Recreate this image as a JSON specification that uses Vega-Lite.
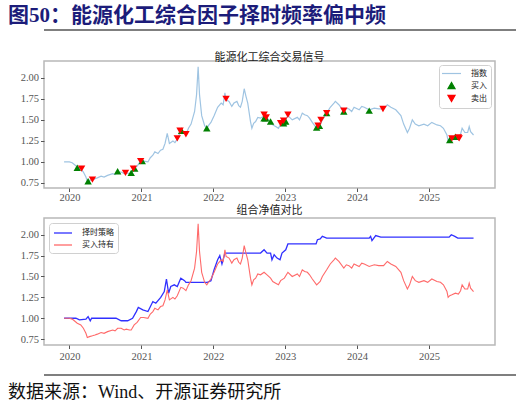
{
  "$schema": "https://vega.github.io/schema/vega-lite/v6.json",
  "description": "能源化工综合因子择时",
  "background": "white",
  "padding": 5,
  "config": {
    "view": {"stroke": "#b8b8b8", "strokeWidth": 1.5},
    "axis": {
      "labelFont": "Liberation Serif",
      "labelFontSize": 10.5,
      "labelColor": "#555",
      "tickColor": "#555",
      "tickSize": 3.5,
      "domain": false,
      "grid": false,
      "title": null
    },
    "legend": {
      "labelFont": "Noto Sans CJK SC",
      "labelFontSize": 8,
      "labelColor": "#222",
      "strokeColor": "#d0d0d0",
      "fillColor": "white",
      "cornerRadius": 3,
      "padding": 4,
      "rowPadding": 2,
      "symbolSize": 100,
      "symbolOffset": 4,
      "title": null
    }
  },
  "datasets": {
    "index": [
      {"date": "2019-12-05", "value": 1.00}, {"date": "2020-01-01", "value": 1.00}, {"date": "2020-01-15", "value": 0.99},
      {"date": "2020-01-26", "value": 0.97}, {"date": "2020-02-10", "value": 0.94}, {"date": "2020-02-28", "value": 0.92},
      {"date": "2020-03-12", "value": 0.88}, {"date": "2020-03-25", "value": 0.82}, {"date": "2020-04-01", "value": 0.77},
      {"date": "2020-04-12", "value": 0.78}, {"date": "2020-04-27", "value": 0.79}, {"date": "2020-05-10", "value": 0.80},
      {"date": "2020-05-22", "value": 0.81}, {"date": "2020-06-10", "value": 0.83}, {"date": "2020-06-25", "value": 0.82},
      {"date": "2020-07-13", "value": 0.84}, {"date": "2020-08-08", "value": 0.86}, {"date": "2020-08-20", "value": 0.85},
      {"date": "2020-09-02", "value": 0.88}, {"date": "2020-09-20", "value": 0.88}, {"date": "2020-10-05", "value": 0.86},
      {"date": "2020-10-16", "value": 0.87}, {"date": "2020-11-01", "value": 0.86}, {"date": "2020-11-10", "value": 0.86},
      {"date": "2020-11-25", "value": 0.92}, {"date": "2020-12-10", "value": 0.95}, {"date": "2020-12-28", "value": 1.01},
      {"date": "2021-01-12", "value": 1.01}, {"date": "2021-02-03", "value": 1.00}, {"date": "2021-02-15", "value": 1.05},
      {"date": "2021-02-28", "value": 1.08}, {"date": "2021-03-10", "value": 1.12}, {"date": "2021-03-26", "value": 1.10},
      {"date": "2021-04-08", "value": 1.14}, {"date": "2021-04-20", "value": 1.15}, {"date": "2021-05-01", "value": 1.22},
      {"date": "2021-05-12", "value": 1.34}, {"date": "2021-05-23", "value": 1.22}, {"date": "2021-06-10", "value": 1.25},
      {"date": "2021-06-20", "value": 1.23}, {"date": "2021-07-02", "value": 1.27}, {"date": "2021-07-20", "value": 1.37},
      {"date": "2021-08-01", "value": 1.36}, {"date": "2021-08-15", "value": 1.33}, {"date": "2021-08-28", "value": 1.40},
      {"date": "2021-09-10", "value": 1.45}, {"date": "2021-09-28", "value": 1.60}, {"date": "2021-10-08", "value": 1.80},
      {"date": "2021-10-16", "value": 2.13}, {"date": "2021-10-23", "value": 1.80}, {"date": "2021-11-03", "value": 1.55},
      {"date": "2021-11-18", "value": 1.43}, {"date": "2021-11-29", "value": 1.40}, {"date": "2021-12-10", "value": 1.44},
      {"date": "2021-12-20", "value": 1.47}, {"date": "2022-01-05", "value": 1.55}, {"date": "2022-01-23", "value": 1.65},
      {"date": "2022-02-10", "value": 1.70}, {"date": "2022-02-20", "value": 1.68}, {"date": "2022-03-01", "value": 1.82},
      {"date": "2022-03-07", "value": 1.74}, {"date": "2022-03-22", "value": 1.72}, {"date": "2022-04-05", "value": 1.66},
      {"date": "2022-04-16", "value": 1.70}, {"date": "2022-05-01", "value": 1.72}, {"date": "2022-05-10", "value": 1.67},
      {"date": "2022-05-19", "value": 1.65}, {"date": "2022-05-28", "value": 1.72}, {"date": "2022-06-07", "value": 1.87},
      {"date": "2022-06-16", "value": 1.78}, {"date": "2022-06-25", "value": 1.70}, {"date": "2022-07-09", "value": 1.48},
      {"date": "2022-07-16", "value": 1.40}, {"date": "2022-07-25", "value": 1.46}, {"date": "2022-08-04", "value": 1.48},
      {"date": "2022-08-15", "value": 1.53}, {"date": "2022-08-29", "value": 1.52}, {"date": "2022-09-16", "value": 1.55},
      {"date": "2022-10-01", "value": 1.52}, {"date": "2022-10-19", "value": 1.48}, {"date": "2022-10-30", "value": 1.44},
      {"date": "2022-11-14", "value": 1.42}, {"date": "2022-11-28", "value": 1.40}, {"date": "2022-12-09", "value": 1.45},
      {"date": "2022-12-28", "value": 1.48}, {"date": "2023-01-15", "value": 1.55}, {"date": "2023-02-06", "value": 1.50},
      {"date": "2023-03-04", "value": 1.53}, {"date": "2023-03-15", "value": 1.50}, {"date": "2023-03-29", "value": 1.58},
      {"date": "2023-04-10", "value": 1.56}, {"date": "2023-04-24", "value": 1.55}, {"date": "2023-05-05", "value": 1.52},
      {"date": "2023-05-19", "value": 1.47}, {"date": "2023-06-10", "value": 1.40}, {"date": "2023-06-28", "value": 1.44},
      {"date": "2023-07-09", "value": 1.50}, {"date": "2023-07-31", "value": 1.58}, {"date": "2023-08-18", "value": 1.65},
      {"date": "2023-09-06", "value": 1.70}, {"date": "2023-09-13", "value": 1.72}, {"date": "2023-10-01", "value": 1.68},
      {"date": "2023-10-26", "value": 1.60}, {"date": "2023-11-08", "value": 1.64}, {"date": "2023-11-21", "value": 1.63},
      {"date": "2023-12-05", "value": 1.60}, {"date": "2023-12-17", "value": 1.65}, {"date": "2024-01-12", "value": 1.62},
      {"date": "2024-01-25", "value": 1.66}, {"date": "2024-02-07", "value": 1.65}, {"date": "2024-03-03", "value": 1.62},
      {"date": "2024-03-29", "value": 1.64}, {"date": "2024-04-20", "value": 1.63}, {"date": "2024-05-15", "value": 1.63},
      {"date": "2024-06-03", "value": 1.68}, {"date": "2024-06-21", "value": 1.65}, {"date": "2024-07-16", "value": 1.62},
      {"date": "2024-08-11", "value": 1.55}, {"date": "2024-08-25", "value": 1.45}, {"date": "2024-09-13", "value": 1.35},
      {"date": "2024-09-24", "value": 1.40}, {"date": "2024-10-08", "value": 1.50}, {"date": "2024-10-23", "value": 1.45},
      {"date": "2024-11-10", "value": 1.43}, {"date": "2024-12-06", "value": 1.45}, {"date": "2024-12-25", "value": 1.43},
      {"date": "2025-01-15", "value": 1.47}, {"date": "2025-02-10", "value": 1.44}, {"date": "2025-02-28", "value": 1.43},
      {"date": "2025-03-15", "value": 1.40}, {"date": "2025-04-02", "value": 1.32}, {"date": "2025-04-08", "value": 1.25},
      {"date": "2025-04-16", "value": 1.27}, {"date": "2025-04-27", "value": 1.28}, {"date": "2025-05-15", "value": 1.30},
      {"date": "2025-05-30", "value": 1.29}, {"date": "2025-06-10", "value": 1.33}, {"date": "2025-06-18", "value": 1.40},
      {"date": "2025-07-02", "value": 1.35}, {"date": "2025-07-16", "value": 1.35}, {"date": "2025-07-24", "value": 1.42},
      {"date": "2025-07-31", "value": 1.36}, {"date": "2025-08-15", "value": 1.32}
    ],
    "strategy": [
      {"date": "2019-12-05", "value": 1.00}, {"date": "2020-02-03", "value": 1.00}, {"date": "2020-02-21", "value": 0.98},
      {"date": "2020-03-25", "value": 0.99}, {"date": "2020-04-05", "value": 1.02}, {"date": "2020-04-16", "value": 0.97},
      {"date": "2020-04-23", "value": 1.00}, {"date": "2020-08-25", "value": 1.00}, {"date": "2020-09-20", "value": 0.97},
      {"date": "2020-10-23", "value": 0.97}, {"date": "2020-11-17", "value": 1.00}, {"date": "2020-12-06", "value": 1.08},
      {"date": "2020-12-16", "value": 1.13}, {"date": "2021-01-08", "value": 1.10}, {"date": "2021-02-03", "value": 1.08},
      {"date": "2021-02-28", "value": 1.20}, {"date": "2021-03-15", "value": 1.18}, {"date": "2021-04-09", "value": 1.25},
      {"date": "2021-04-27", "value": 1.32}, {"date": "2021-05-08", "value": 1.47}, {"date": "2021-05-19", "value": 1.30},
      {"date": "2021-05-30", "value": 1.38}, {"date": "2021-06-17", "value": 1.40}, {"date": "2021-07-02", "value": 1.38},
      {"date": "2021-07-20", "value": 1.48}, {"date": "2021-08-08", "value": 1.45}, {"date": "2021-08-15", "value": 1.43},
      {"date": "2021-12-02", "value": 1.43}, {"date": "2021-12-20", "value": 1.45}, {"date": "2022-01-05", "value": 1.58},
      {"date": "2022-01-23", "value": 1.70}, {"date": "2022-02-03", "value": 1.75}, {"date": "2022-02-14", "value": 1.65},
      {"date": "2022-03-01", "value": 1.78}, {"date": "2022-08-29", "value": 1.78}, {"date": "2022-09-16", "value": 1.82},
      {"date": "2022-10-01", "value": 1.78}, {"date": "2022-10-19", "value": 1.78}, {"date": "2022-10-26", "value": 1.70},
      {"date": "2022-11-06", "value": 1.76}, {"date": "2022-11-21", "value": 1.72}, {"date": "2022-12-06", "value": 1.70},
      {"date": "2022-12-16", "value": 1.78}, {"date": "2023-01-04", "value": 1.82}, {"date": "2023-01-15", "value": 1.89},
      {"date": "2023-06-07", "value": 1.89}, {"date": "2023-06-14", "value": 1.94}, {"date": "2023-06-28", "value": 1.95},
      {"date": "2023-07-09", "value": 1.98}, {"date": "2023-07-31", "value": 1.96}, {"date": "2024-03-03", "value": 1.96},
      {"date": "2024-03-10", "value": 1.98}, {"date": "2024-03-17", "value": 1.93}, {"date": "2024-04-05", "value": 1.99},
      {"date": "2024-05-01", "value": 1.97}, {"date": "2025-04-13", "value": 1.97}, {"date": "2025-04-24", "value": 2.00},
      {"date": "2025-05-12", "value": 1.98}, {"date": "2025-05-27", "value": 1.96}, {"date": "2025-08-15", "value": 1.96}
    ],
    "signals": [
      {"date": "2020-02-10", "value": 0.93, "signal": "买入"}, {"date": "2020-04-05", "value": 0.77, "signal": "买入"},
      {"date": "2020-09-02", "value": 0.89, "signal": "买入"}, {"date": "2020-11-10", "value": 0.87, "signal": "买入"},
      {"date": "2020-11-28", "value": 0.92, "signal": "买入"}, {"date": "2021-01-05", "value": 1.01, "signal": "买入"},
      {"date": "2021-07-24", "value": 1.37, "signal": "买入"}, {"date": "2021-11-29", "value": 1.40, "signal": "买入"},
      {"date": "2022-09-16", "value": 1.52, "signal": "买入"}, {"date": "2022-09-24", "value": 1.52, "signal": "买入"},
      {"date": "2022-10-19", "value": 1.48, "signal": "买入"}, {"date": "2022-12-24", "value": 1.46, "signal": "买入"},
      {"date": "2023-01-04", "value": 1.48, "signal": "买入"}, {"date": "2023-06-10", "value": 1.41, "signal": "买入"},
      {"date": "2023-06-24", "value": 1.43, "signal": "买入"}, {"date": "2023-07-31", "value": 1.58, "signal": "买入"},
      {"date": "2023-10-26", "value": 1.60, "signal": "买入"}, {"date": "2024-03-03", "value": 1.61, "signal": "买入"},
      {"date": "2025-04-16", "value": 1.26, "signal": "买入"}, {"date": "2025-05-15", "value": 1.30, "signal": "买入"},
      {"date": "2020-03-03", "value": 0.92, "signal": "卖出"}, {"date": "2020-04-27", "value": 0.79, "signal": "卖出"},
      {"date": "2020-10-12", "value": 0.87, "signal": "卖出"}, {"date": "2020-11-21", "value": 0.92, "signal": "卖出"},
      {"date": "2020-12-28", "value": 1.01, "signal": "卖出"}, {"date": "2021-07-02", "value": 1.28, "signal": "卖出"},
      {"date": "2021-07-16", "value": 1.37, "signal": "卖出"}, {"date": "2021-08-15", "value": 1.33, "signal": "卖出"},
      {"date": "2022-03-07", "value": 1.75, "signal": "卖出"}, {"date": "2022-09-16", "value": 1.56, "signal": "卖出"},
      {"date": "2022-09-27", "value": 1.53, "signal": "卖出"}, {"date": "2022-12-09", "value": 1.46, "signal": "卖出"},
      {"date": "2022-12-24", "value": 1.49, "signal": "卖出"}, {"date": "2023-01-15", "value": 1.56, "signal": "卖出"},
      {"date": "2023-06-17", "value": 1.43, "signal": "卖出"}, {"date": "2023-07-02", "value": 1.50, "signal": "卖出"},
      {"date": "2023-07-31", "value": 1.58, "signal": "卖出"}, {"date": "2023-10-26", "value": 1.61, "signal": "卖出"},
      {"date": "2024-05-12", "value": 1.63, "signal": "卖出"}, {"date": "2025-04-27", "value": 1.28, "signal": "卖出"},
      {"date": "2025-05-30", "value": 1.29, "signal": "卖出"}, {"date": "2025-06-03", "value": 1.28, "signal": "卖出"}
    ],
    "headrule": [{"y": 1}],
    "footrule": [{"y": 0}]
  },
  "vconcat": [
    {
      "width": 472,
      "height": 21,
      "view": {"stroke": null},
      "title": {
        "text": "图50：能源化工综合因子择时频率偏中频",
        "anchor": "start",
        "frame": "group",
        "dx": -36,
        "font": "Liberation Serif, Noto Sans CJK SC",
        "fontSize": 21,
        "fontWeight": "bold",
        "color": "#1c1c7a",
        "offset": 3
      },
      "data": {"name": "headrule"},
      "mark": {"type": "rule", "color": "black", "strokeWidth": 1.2, "x2Offset": -38},
      "encoding": {
        "y": {"field": "y", "type": "quantitative", "scale": {"domain": [0, 1], "nice": false}, "axis": null}
      }
    },
    {
      "width": 451,
      "height": 127,
      "title": {
        "text": "能源化工综合交易信号",
        "font": "Noto Sans CJK SC",
        "fontSize": 11,
        "fontWeight": "normal",
        "color": "#222",
        "offset": -2
      },
      "layer": [
        {
          "data": {"name": "index"},
          "mark": {"type": "line", "strokeWidth": 1.2},
          "encoding": {
            "x": {"field": "date", "type": "temporal"},
            "y": {"field": "value", "type": "quantitative"},
            "color": {"datum": "指数"}
          }
        },
        {
          "data": {"name": "signals"},
          "transform": [{"filter": "datum.signal === '买入'"}],
          "mark": {"type": "point", "shape": "triangle-up", "filled": true, "size": 55, "opacity": 1},
          "encoding": {
            "x": {"field": "date", "type": "temporal"},
            "y": {"field": "value", "type": "quantitative"},
            "color": {"field": "signal", "type": "nominal"}
          }
        },
        {
          "data": {"name": "signals"},
          "transform": [{"filter": "datum.signal === '卖出'"}],
          "mark": {"type": "point", "shape": "triangle-down", "filled": true, "size": 55, "opacity": 1},
          "encoding": {
            "x": {"field": "date", "type": "temporal"},
            "y": {"field": "value", "type": "quantitative"},
            "color": {"field": "signal", "type": "nominal"}
          }
        }
      ],
      "encoding": {
        "x": {
          "field": "date",
          "type": "temporal",
          "scale": {"domain": [{"year": 2019, "month": 8, "date": 25}, {"year": 2025, "month": 12, "date": 2}], "nice": false},
          "axis": {"format": "%Y", "values": [{"year": 2020}, {"year": 2021}, {"year": 2022}, {"year": 2023}, {"year": 2024}, {"year": 2025}], "labelPadding": 1}
        },
        "y": {
          "field": "value",
          "type": "quantitative",
          "scale": {"domain": [0.69, 2.2], "nice": false, "zero": false},
          "axis": {"values": [0.75, 1.0, 1.25, 1.5, 1.75, 2.0], "format": ".2f", "minExtent": 38}
        },
        "color": {
          "scale": {"domain": ["指数", "买入", "卖出"], "range": ["#9fc4e2", "#008000", "#ff0000"]},
          "legend": {
            "orient": "top-right",
            "offset": 4,
            "labelOffset": 15,
            "encode": {
              "symbols": {
                "update": {
                  "shape": {"signal": "datum.value === '买入' ? 'triangle-up' : (datum.value === '卖出' ? 'triangle-down' : 'M-1.9,0H1.9')"},
                  "size": {"signal": "datum.value === '指数' ? 100 : 50"},
                  "fill": {"signal": "datum.value === '买入' ? '#008000' : (datum.value === '卖出' ? '#ff0000' : 'transparent')"},
                  "stroke": {"signal": "datum.value === '买入' ? '#008000' : (datum.value === '卖出' ? '#ff0000' : '#9fc4e2')"},
                  "strokeWidth": {"value": 1.2},
                  "opacity": {"value": 1}
                }
              }
            }
          }
        }
      }
    },
    {
      "width": 451,
      "height": 127,
      "title": {
        "text": "组合净值对比",
        "font": "Noto Sans CJK SC",
        "fontSize": 11,
        "fontWeight": "normal",
        "color": "#222",
        "offset": 2
      },
      "layer": [
        {
          "data": {"name": "strategy"},
          "mark": {"type": "line", "strokeWidth": 1.3},
          "encoding": {"color": {"datum": "择时策略"}}
        },
        {
          "data": {"name": "index"},
          "mark": {"type": "line", "strokeWidth": 1.1},
          "encoding": {"color": {"datum": "买入持有"}}
        }
      ],
      "encoding": {
        "x": {
          "field": "date",
          "type": "temporal",
          "scale": {"domain": [{"year": 2019, "month": 8, "date": 25}, {"year": 2025, "month": 12, "date": 2}], "nice": false},
          "axis": {"format": "%Y", "values": [{"year": 2020}, {"year": 2021}, {"year": 2022}, {"year": 2023}, {"year": 2024}, {"year": 2025}], "labelPadding": 3}
        },
        "y": {
          "field": "value",
          "type": "quantitative",
          "scale": {"domain": [0.68, 2.2], "nice": false, "zero": false},
          "axis": {"values": [0.75, 1.0, 1.25, 1.5, 1.75, 2.0], "format": ".2f", "minExtent": 38}
        },
        "color": {
          "scale": {"domain": ["择时策略", "买入持有"], "range": ["#3030ff", "#ff6a6a"]},
          "legend": {
            "orient": "top-left",
            "offset": 5,
            "labelOffset": 13,
            "encode": {
              "symbols": {
                "update": {
                  "shape": {"value": "M-1.8,0H1.8"},
                  "size": {"value": 100},
                  "fill": {"value": "transparent"},
                  "strokeWidth": {"value": 1.3},
                  "opacity": {"value": 1}
                }
              }
            }
          }
        }
      }
    },
    {
      "width": 472,
      "height": 12,
      "view": {"stroke": null},
      "title": {
        "text": "数据来源：Wind、开源证券研究所",
        "orient": "bottom",
        "anchor": "start",
        "frame": "group",
        "dx": -36,
        "font": "Liberation Serif, Noto Sans CJK SC",
        "fontSize": 18,
        "fontWeight": "normal",
        "color": "#111",
        "offset": 8
      },
      "data": {"name": "footrule"},
      "mark": {"type": "rule", "color": "black", "strokeWidth": 1.2, "x2Offset": -38},
      "encoding": {
        "y": {"field": "y", "type": "quantitative", "scale": {"domain": [0, 1], "nice": false}, "axis": null}
      }
    }
  ],
  "spacing": 0,
  "resolve": {"scale": {"color": "independent", "x": "independent", "y": "independent"}, "legend": {"color": "independent"}}
}
